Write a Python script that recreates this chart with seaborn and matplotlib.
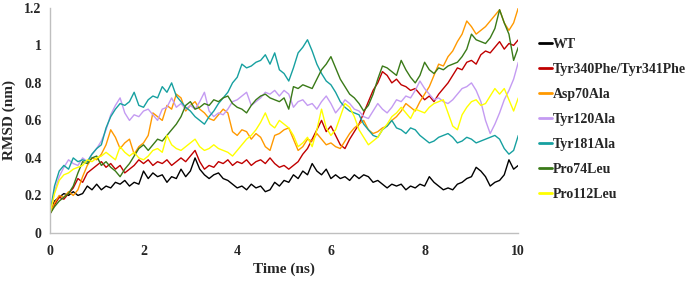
import numpy as np
import pandas as pd
import matplotlib
matplotlib.use("Agg")
import matplotlib.pyplot as plt
import seaborn as sns

# Час (нс), крок 0.1
time_ns = [round(i * 0.1, 1) for i in range(101)]

wt = [0.10, 0.17, 0.19, 0.21, 0.20, 0.22, 0.20, 0.21, 0.25, 0.23,
      0.26, 0.23, 0.25, 0.24, 0.27, 0.26, 0.28, 0.25, 0.27, 0.26,
      0.33, 0.29, 0.32, 0.30, 0.31, 0.27, 0.30, 0.29, 0.34, 0.30,
      0.33, 0.40, 0.34, 0.31, 0.29, 0.31, 0.32, 0.29, 0.28, 0.26,
      0.24, 0.25, 0.23, 0.26, 0.24, 0.25, 0.22, 0.23, 0.27, 0.25,
      0.28, 0.27, 0.31, 0.29, 0.33, 0.31, 0.37, 0.33, 0.31, 0.34,
      0.29, 0.31, 0.29, 0.30, 0.28, 0.31, 0.29, 0.31, 0.30, 0.27,
      0.28, 0.26, 0.24, 0.26, 0.25, 0.26, 0.23, 0.25, 0.24, 0.26,
      0.25, 0.30, 0.27, 0.25, 0.23, 0.24, 0.23, 0.26, 0.27, 0.29,
      0.30, 0.35, 0.33, 0.30, 0.25, 0.27, 0.28, 0.31, 0.39, 0.34, 0.36]

tyr340 = [0.10, 0.15, 0.19, 0.18, 0.21, 0.24, 0.29, 0.27, 0.32, 0.34,
          0.36, 0.38, 0.35, 0.37, 0.34, 0.36, 0.32, 0.34, 0.36, 0.39,
          0.37, 0.39, 0.36, 0.38, 0.37, 0.39, 0.36, 0.38, 0.40, 0.38,
          0.41, 0.44, 0.38, 0.34, 0.36, 0.35, 0.38, 0.37, 0.39, 0.36,
          0.38, 0.37, 0.39, 0.36, 0.38, 0.39, 0.37, 0.40, 0.37, 0.35,
          0.36, 0.34, 0.36, 0.38, 0.42, 0.45, 0.50, 0.55, 0.60, 0.54,
          0.57, 0.52, 0.47, 0.45, 0.50, 0.54, 0.58, 0.64, 0.70, 0.76,
          0.80, 0.86, 0.84, 0.80, 0.82, 0.79, 0.78, 0.76, 0.77, 0.74,
          0.71, 0.73, 0.70, 0.74, 0.77, 0.80, 0.84, 0.88, 0.87, 0.91,
          0.92, 0.90, 0.95, 0.97, 0.96, 0.99, 1.02, 0.98, 1.01, 1.00, 1.03]

asp70 = [0.10, 0.16, 0.20, 0.19, 0.22, 0.20, 0.23, 0.30, 0.36, 0.40,
         0.39, 0.42, 0.47, 0.55, 0.51, 0.45, 0.48, 0.50, 0.42, 0.46,
         0.48, 0.52, 0.64, 0.62, 0.60, 0.68, 0.66, 0.74, 0.72, 0.65,
         0.68, 0.70, 0.66, 0.64, 0.61, 0.60, 0.63, 0.66, 0.64, 0.54,
         0.52, 0.55, 0.54, 0.50, 0.53, 0.51, 0.46, 0.44, 0.52, 0.53,
         0.55, 0.56, 0.50, 0.44, 0.46, 0.50, 0.49, 0.53, 0.50, 0.47,
         0.48, 0.46, 0.45, 0.49, 0.53, 0.56, 0.58, 0.60, 0.55, 0.53,
         0.54, 0.56, 0.57, 0.60, 0.62, 0.65, 0.69, 0.67, 0.65, 0.70,
         0.74, 0.78, 0.84, 0.90, 0.89, 0.94, 0.97, 1.02, 1.06, 1.13,
         1.10, 1.06, 1.08, 1.10, 1.13, 1.16, 1.19, 1.12, 1.08, 1.12, 1.20]

tyr120 = [0.10, 0.22, 0.30, 0.35, 0.39, 0.37, 0.36, 0.40, 0.38, 0.42,
          0.45, 0.49, 0.55, 0.63, 0.68, 0.72, 0.64, 0.60, 0.63, 0.62,
          0.65, 0.66, 0.63, 0.60, 0.66, 0.67, 0.72, 0.67, 0.69, 0.66,
          0.68, 0.66, 0.70, 0.75, 0.65, 0.62, 0.64, 0.63, 0.66, 0.70,
          0.71, 0.73, 0.75, 0.68, 0.70, 0.72, 0.75, 0.74, 0.76, 0.73,
          0.76, 0.74, 0.67, 0.70, 0.71, 0.68, 0.69, 0.66, 0.70, 0.73,
          0.69, 0.64, 0.67, 0.71, 0.69, 0.66, 0.65, 0.62, 0.61, 0.65,
          0.69, 0.66, 0.64, 0.67, 0.71, 0.70, 0.73, 0.72, 0.76, 0.81,
          0.77, 0.74, 0.71, 0.72, 0.70, 0.69, 0.71, 0.74, 0.77, 0.78,
          0.80, 0.76, 0.70, 0.60, 0.53, 0.58, 0.64, 0.71, 0.76, 0.82, 0.91]

tyr181 = [0.10, 0.25, 0.33, 0.36, 0.34, 0.40, 0.38, 0.39, 0.38, 0.42,
          0.45, 0.47, 0.56, 0.62, 0.66, 0.69, 0.68, 0.70, 0.75, 0.68,
          0.67, 0.71, 0.73, 0.72, 0.78, 0.75, 0.80, 0.73, 0.70, 0.67,
          0.65, 0.62, 0.60, 0.58, 0.62, 0.65, 0.69, 0.72, 0.75, 0.80,
          0.83, 0.90, 0.88, 0.89, 0.91, 0.92, 0.95, 0.90, 0.96, 0.87,
          0.85, 0.81, 0.88, 0.96, 0.99, 1.03, 0.97, 0.90, 0.85, 0.81,
          0.79, 0.75, 0.70, 0.67, 0.65, 0.64, 0.63, 0.58, 0.55, 0.52,
          0.51, 0.55, 0.57, 0.60, 0.56, 0.55, 0.53, 0.56, 0.55, 0.52,
          0.50, 0.48, 0.49, 0.51, 0.52, 0.53, 0.51, 0.48, 0.49, 0.51,
          0.50, 0.48, 0.49, 0.50, 0.51, 0.52, 0.50, 0.45, 0.42, 0.44, 0.52]

pro74 = [0.10, 0.14, 0.17, 0.19, 0.21, 0.25, 0.32, 0.38, 0.37, 0.40,
         0.41, 0.36, 0.38, 0.35, 0.33, 0.30, 0.34, 0.37, 0.41, 0.45,
         0.47, 0.44, 0.47, 0.50, 0.49, 0.52, 0.55, 0.58, 0.62, 0.68,
         0.70, 0.66, 0.67, 0.69, 0.68, 0.71, 0.70, 0.72, 0.73, 0.69,
         0.67, 0.66, 0.64, 0.68, 0.71, 0.73, 0.74, 0.72, 0.71, 0.70,
         0.72, 0.66, 0.78, 0.77, 0.79, 0.78, 0.77, 0.82, 0.87, 0.90,
         0.94, 0.88, 0.82, 0.78, 0.74, 0.72, 0.69, 0.65, 0.68, 0.74,
         0.82, 0.89, 0.88, 0.86, 0.84, 0.92, 0.87, 0.83, 0.80, 0.84,
         0.91, 0.87, 0.85, 0.88, 0.87, 0.89, 0.90, 0.91, 0.94, 0.98,
         1.06, 1.03, 1.02, 1.01, 1.04, 1.09, 1.19, 1.12, 1.06, 0.92, 0.99]

pro112 = [0.10, 0.21, 0.28, 0.31, 0.32, 0.34, 0.35, 0.36, 0.39, 0.38,
          0.40, 0.41, 0.43, 0.41, 0.39, 0.46, 0.43, 0.41, 0.43, 0.40,
          0.39, 0.41, 0.44, 0.45, 0.43, 0.52, 0.47, 0.45, 0.44, 0.46,
          0.48, 0.50, 0.46, 0.44, 0.45, 0.47, 0.45, 0.44, 0.43, 0.41,
          0.44, 0.47, 0.50, 0.52, 0.55, 0.59, 0.64, 0.58, 0.56, 0.60,
          0.58, 0.56, 0.52, 0.46, 0.48, 0.51, 0.46, 0.55, 0.66, 0.56,
          0.52, 0.55, 0.62, 0.69, 0.67, 0.62, 0.55, 0.51, 0.47, 0.49,
          0.51, 0.55, 0.58, 0.62, 0.64, 0.67, 0.64, 0.61, 0.66, 0.65,
          0.64, 0.67, 0.69, 0.70, 0.71, 0.64, 0.57, 0.55, 0.63, 0.67,
          0.70, 0.71, 0.68, 0.69, 0.73, 0.77, 0.74, 0.77, 0.71, 0.65, 0.72]

labels = ["WT", "Tyr340Phe/Tyr341Phe", "Asp70Ala", "Tyr120Ala",
          "Tyr181Ala", "Pro74Leu", "Pro112Leu"]
series = [wt, tyr340, asp70, tyr120, tyr181, pro74, pro112]
colors = ["#000000", "#c00000", "#ff9900", "#c49bf2",
          "#16a0a0", "#3a7a18", "#ffff00"]

df = pd.concat([pd.DataFrame({"time": time_ns, "rmsd": s, "variant": name})
                for name, s in zip(labels, series)], ignore_index=True)

sns.set_style("white")
plt.rcParams['font.family'] = ['Liberation Serif', 'DejaVu Serif']
plt.rcParams['font.weight'] = 'bold'

fig = plt.figure(figsize=(6.92, 2.81), dpi=100)
ax = fig.add_axes([0.072, 0.171, 0.677, 0.801])

sns.lineplot(data=df, x="time", y="rmsd", hue="variant", hue_order=labels,
             palette=colors, linewidth=1.0, ax=ax, legend=True)

ax.set_xlim(0, 10)
ax.set_ylim(0, 1.2)
ax.set_xticks([0, 2, 4, 6, 8, 10])
ax.set_yticks([0, 0.2, 0.4, 0.6, 0.8, 1.0, 1.2])
ax.set_yticklabels(["0", "0.2", "0.4", "0.6", "0.8", "1", "1.2"])
ax.tick_params(length=0, labelsize=10, pad=6)
ax.tick_params(axis='x', pad=9)
for lab in ax.get_xticklabels() + ax.get_yticklabels():
    lab.set_fontweight('bold')
ax.set_xlabel("Time (ns)", fontsize=11, fontweight='bold', labelpad=3)
ax.set_ylabel("RMSD (nm)", fontsize=11, fontweight='bold', labelpad=6)

for side in ["top", "right"]:
    ax.spines[side].set_visible(False)
for side in ["left", "bottom"]:
    ax.spines[side].set_color("#bfbfbf")
    ax.spines[side].set_linewidth(1.0)

handles, lbls = ax.get_legend_handles_labels()
for h in handles:
    h.set_linewidth(2)
ax.legend(handles, lbls, loc="upper left", bbox_to_anchor=(0.771, 0.885),
          bbox_transform=fig.transFigure, frameon=False, handlelength=0.9,
          handletextpad=0.1, labelspacing=0.86, borderaxespad=0,
          prop={'size': 10, 'weight': 'bold'})

fig.savefig("out.png", dpi=100)
